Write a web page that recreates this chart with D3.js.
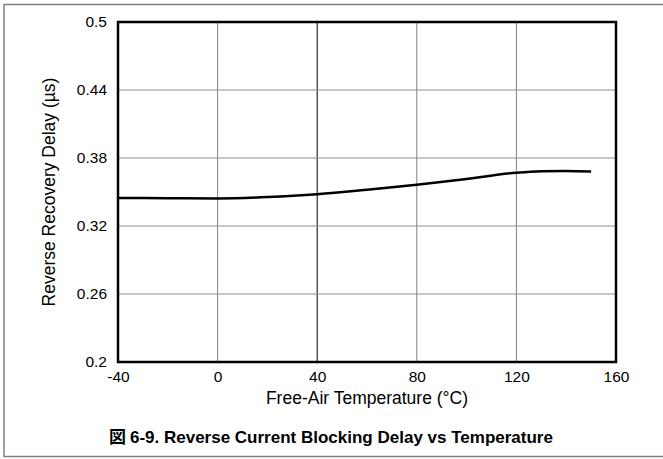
<!DOCTYPE html>
<html><head><meta charset="utf-8">
<script src="https://cdn.jsdelivr.net/npm/d3@7"></script>
<style>body{margin:0;background:#fff;} svg{display:block;}</style>
</head><body>
<script>
const temps = [-40, -20, 0, 20, 40, 60, 80, 100, 120, 130, 140, 150];
const delays = [0.3447, 0.3445, 0.3443, 0.3455, 0.348, 0.352, 0.3565, 0.3615, 0.367, 0.3683, 0.3685, 0.368];
const xTicks = [-40, 0, 40, 80, 120, 160];
const yTicks = [0.2, 0.26, 0.32, 0.38, 0.44, 0.5];
const xTitle = "Free-Air Temperature (°C)";
const yTitle = "Reverse Recovery Delay (µs)";
const caption = "6-9. Reverse Current Blocking Delay vs Temperature";

const W = 663, H = 459;
const svg = d3.select("body").append("svg").attr("width", W).attr("height", H);
const font = "Arial, 'Liberation Sans', sans-serif";

// frame
svg.append("line").attr("x1", 4).attr("x2", W).attr("y1", 4.5).attr("y2", 4.5).attr("stroke", "#808080").attr("stroke-width", 1.5);
svg.append("line").attr("x1", 4).attr("x2", W).attr("y1", 456.5).attr("y2", 456.5).attr("stroke", "#808080").attr("stroke-width", 1.5);
svg.append("line").attr("x1", 4).attr("x2", 4).attr("y1", 4).attr("y2", 457).attr("stroke", "#808080").attr("stroke-width", 1.5);

const L = 118, R = 616, T = 22, B = 362;
const x = d3.scaleLinear().domain([-40, 160]).range([L, R]);
const y = d3.scaleLinear().domain([0.2, 0.5]).range([B, T]);

// grid
const g = svg.append("g");
g.selectAll(".vg").data(xTicks.slice(1, -1)).enter().append("line")
  .attr("x1", d => x(d)).attr("x2", d => x(d)).attr("y1", T).attr("y2", B)
  .attr("stroke", d => d === 40 ? "#000" : "#808080").attr("stroke-width", 1);
g.selectAll(".hg").data(yTicks.slice(1, -1)).enter().append("line")
  .attr("x1", L).attr("x2", R).attr("y1", d => y(d)).attr("y2", d => y(d))
  .attr("stroke", "#909090").attr("stroke-width", 1);

// axes (labels only)
const xAxis = svg.append("g").attr("transform", `translate(0,${B})`)
  .call(d3.axisBottom(x).tickValues(xTicks).tickSize(0).tickPadding(9).tickFormat(d => String(d)));
const yAxis = svg.append("g").attr("transform", `translate(${L},0)`)
  .call(d3.axisLeft(y).tickValues(yTicks).tickSize(0).tickPadding(11).tickFormat(d => String(+d.toFixed(2))));
[xAxis, yAxis].forEach(a => {
  a.select(".domain").remove();
  a.selectAll("text").attr("font-family", font).attr("font-size", 15.5).attr("fill", "#000");
});

// curve
const line = d3.line().x((d, i) => x(temps[i])).y(d => y(d)).curve(d3.curveMonotoneX);
svg.append("path").datum(delays).attr("d", line).attr("fill", "none")
  .attr("stroke", "#000").attr("stroke-width", 2.5);

// plot border
svg.append("rect").attr("x", L).attr("y", T).attr("width", R - L).attr("height", B - T)
  .attr("fill", "none").attr("stroke", "#000").attr("stroke-width", 2.5);

// titles
svg.append("text").attr("x", (L + R) / 2).attr("y", 404).attr("text-anchor", "middle")
  .attr("font-family", font).attr("font-size", 17.5).text(xTitle);
svg.append("text").attr("transform", `translate(55,${(T + B) / 2}) rotate(-90)`).attr("text-anchor", "middle")
  .attr("font-family", font).attr("font-size", 17.5).text(yTitle);

const cap = svg.append("text").attr("x", 331).attr("y", 443).attr("text-anchor", "middle")
  .attr("font-family", font).attr("font-size", 17).attr("font-weight", "bold");
cap.append("tspan").attr("font-family", "'Noto Sans CJK JP', sans-serif").text("図 ");
cap.append("tspan").text(caption);
</script>
</body></html>
